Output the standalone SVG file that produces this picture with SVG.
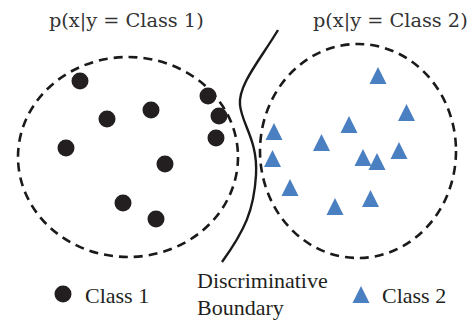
<svg xmlns="http://www.w3.org/2000/svg" width="473" height="320" viewBox="0 0 473 320">
<style>
.region{fill:none;stroke:#1a1a1a;stroke-width:2.6;stroke-dasharray:9 6}
.dot{fill:#231f20}
.tri{fill:#4a80c2}
.title{font-family:"DejaVu Serif","Liberation Serif",serif;font-size:19.3px;fill:#333}
.lbl{font-family:"Liberation Serif","Times New Roman",serif;font-size:22px;fill:#231f20}
</style>
<defs>
<circle id="d" r="8.5"/>
<polygon id="t" points="0,-9 8.5,8 -8.5,8"/>
</defs>
<g id="class1-region">
<ellipse class="region" cx="128" cy="157" rx="110" ry="100"/>
<text class="title" x="49" y="27">p(x|y = Class 1)</text>
</g>
<g id="class2-region">
<ellipse class="region" cx="358" cy="151" rx="98" ry="107"/>
<text class="title" x="313" y="27">p(x|y = Class 2)</text>
</g>
<g id="class1-points" class="dot">
<use href="#d" x="80" y="81"/>
<use href="#d" x="107" y="119"/>
<use href="#d" x="151" y="110"/>
<use href="#d" x="208" y="96"/>
<use href="#d" x="219" y="116"/>
<use href="#d" x="216" y="138"/>
<use href="#d" x="66" y="148"/>
<use href="#d" x="165" y="164"/>
<use href="#d" x="123" y="203"/>
<use href="#d" x="156" y="219"/>
</g>
<g id="class2-points" class="tri">
<use href="#t" x="378" y="76"/>
<use href="#t" x="406.5" y="113"/>
<use href="#t" x="349" y="125"/>
<use href="#t" x="274" y="132"/>
<use href="#t" x="321.5" y="143"/>
<use href="#t" x="399" y="151"/>
<use href="#t" x="363" y="158"/>
<use href="#t" x="377" y="162"/>
<use href="#t" x="272.5" y="159"/>
<use href="#t" x="290" y="188"/>
<use href="#t" x="370.5" y="199"/>
<use href="#t" x="335" y="207"/>
</g>
<g id="connectors">
<path id="boundary" d="M278,30 C260,60 238,85 240,105 C242,125 258,140 256,175 C254,210 245,230 222,262" fill="none" stroke="#1a1a1a" stroke-width="2.4"/>
</g>
<g id="boundary-label">
<text class="lbl" x="197" y="288">Discriminative</text>
<text class="lbl" x="197" y="315">Boundary</text>
</g>
<g id="legend-class1">
<use href="#d" class="dot" x="63" y="294"/>
<text class="lbl" x="85" y="303">Class 1</text>
</g>
<g id="legend-class2">
<use href="#t" class="tri" x="361" y="295"/>
<text class="lbl" x="382" y="303">Class 2</text>
</g>
</svg>
